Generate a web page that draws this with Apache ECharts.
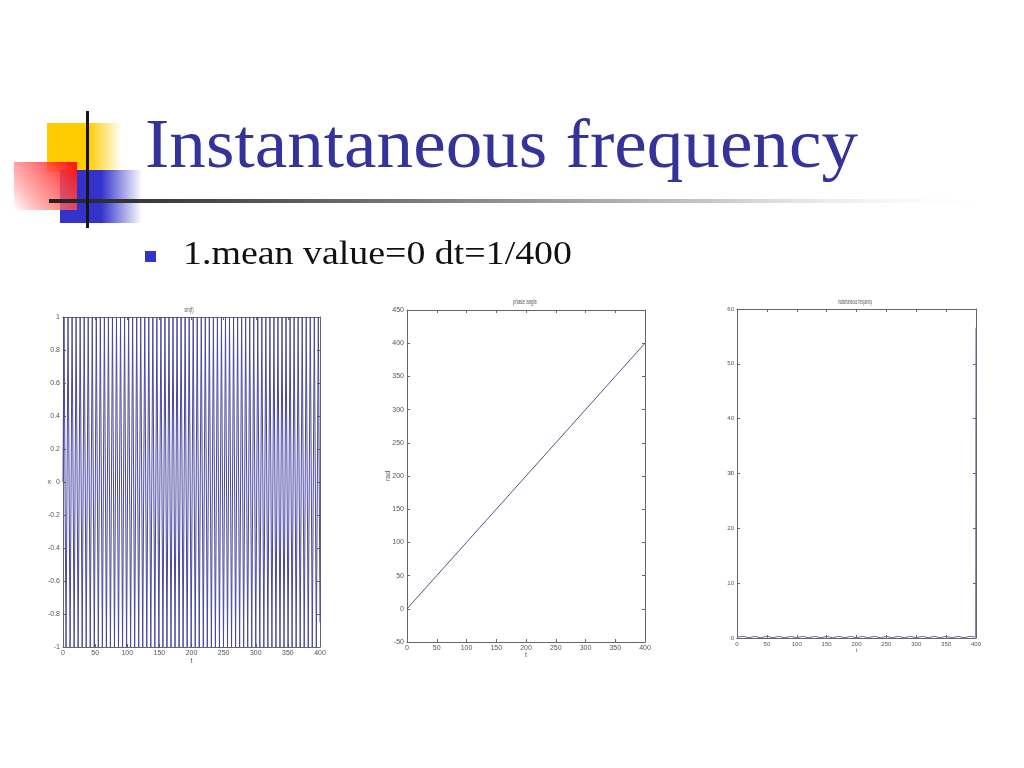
<!DOCTYPE html>
<html>
<head>
<meta charset="utf-8">
<script src="https://cdn.jsdelivr.net/npm/echarts@6/dist/echarts.min.js"></script>
<style>
html,body{margin:0;padding:0;background:#fff;}
#c{width:1024px;height:768px;}
</style>
</head>
<body>
<div id="c"></div>
<script>
// ---- Slide text ----
const slideTitle = 'Instantaneous frequency';
const bulletText = '1.mean value=0 dt=1/400';
const plotTitles = ['sin(t)', 'phase angle', 'instantaneous frequency'];
const yNames = ['x', 'rad', 'f'];
const xName = 't';

// ---- Plot 1: sin(t), extremes ----
const sinT = [0, 1.57, 4.71, 7.85, 11.00, 14.14, 17.28, 20.42, 23.56, 26.70, 29.85, 32.99, 36.13, 39.27, 42.41, 45.55,
  48.69, 51.84, 54.98, 58.12, 61.26, 64.40, 67.54, 70.69, 73.83, 76.97, 80.11, 83.25, 86.39, 89.54, 92.68, 95.82,
  98.96, 102.10, 105.24, 108.38, 111.53, 114.67, 117.81, 120.95, 124.09, 127.23, 130.38, 133.52, 136.66, 139.80,
  142.94, 146.08, 149.23, 152.37, 155.51, 158.65, 161.79, 164.93, 168.08, 171.22, 174.36, 177.50, 180.64, 183.78,
  186.92, 190.07, 193.21, 196.35, 199.49, 202.63, 205.77, 208.92, 212.06, 215.20, 218.34, 221.48, 224.62, 227.77,
  230.91, 234.05, 237.19, 240.33, 243.47, 246.62, 249.76, 252.90, 256.04, 259.18, 262.32, 265.46, 268.61, 271.75,
  274.89, 278.03, 281.17, 284.31, 287.46, 290.60, 293.74, 296.88, 300.02, 303.16, 306.31, 309.45, 312.59, 315.73,
  318.87, 322.01, 325.15, 328.30, 331.44, 334.58, 337.72, 340.86, 344.00, 347.15, 350.29, 353.43, 356.57, 359.71,
  362.85, 366.00, 369.14, 372.28, 375.42, 378.56, 381.70, 384.85, 387.99, 391.13, 394.27, 397.41, 400];
const sinX = [0,
  1,-1,1,-1,1,-1,1,-1,1,-1,1,-1,1,-1,
  1,-1,1,-1,1,-1,1,-1,1,-1,1,-1,1,-1,
  1,-1,1,-1,1,-1,1,-1,1,-1,1,-1,1,-1,
  1,-1,1,-1,1,-1,1,-1,1,-1,1,-1,1,-1,
  1,-1,1,-1,1,-1,1,-1,1,-1,1,-1,1,-1,
  1,-1,1,-1,1,-1,1,-1,1,-1,1,-1,1,-1,
  1,-1,1,-1,1,-1,1,-1,1,-1,1,-1,1,-1,
  1,-1,1,-1,1,-1,1,-1,1,-1,1,-1,1,-1,
  1,-1,1,-1,1,-1,1,-1,1,-1,1,-1,1,-1,
  1, -0.85];

// ---- Plot 2: phase angle ----
const phaseT = [0, 50, 100, 150, 200, 250, 300, 350, 400];
const phaseRad = [0, 50, 100, 150, 200, 250, 300, 350, 400];

// ---- Plot 3: instantaneous frequency ----
const freqT = [0,10,20,30,40,50,60,70,80,90,100,110,120,130,140,150,160,170,180,190,200,
  210,220,230,240,250,260,270,280,290,300,310,320,330,340,350,360,370,380,390,399.5,400];
const freqF = [0.16,0.3,0.05,0.3,0.05,0.3,0.05,0.3,0.05,0.3,0.05,0.3,0.05,0.3,0.05,0.3,0.05,0.3,0.05,0.3,0.05,
  0.3,0.05,0.3,0.05,0.3,0.05,0.3,0.05,0.3,0.05,0.3,0.05,0.3,0.05,0.3,0.05,0.3,0.05,0.3,0.16,56.6];

// ---- Axis ranges ----
const axes = [
  {x:[0,400,50], y:[-1,1,0.2]},
  {x:[0,400,50], y:[-50,450,50]},
  {x:[0,400,50], y:[0,60,10]}
];

const grids = [
  {left:63, top:317, width:257, height:330},
  {left:407, top:310, width:238, height:332},
  {left:737, top:309, width:239, height:329}
];

const measureCtx = document.createElement('canvas').getContext('2d');
function fitScale(text, font, targetW) {
  measureCtx.font = font;
  return targetW / measureCtx.measureText(text).width;
}

const chart = echarts.init(document.getElementById('c'), null, {renderer:'canvas'});
const lblFont = {fontFamily:'Liberation Sans Narrow, Liberation Sans, sans-serif', fontSize:7, color:'#555'};
const lineCol = '#666';
const xNameGap = [11, 10, 9];
const yNameGap = [12, 15, 5];
const labelSizes = [7, 7, 6];

const xAxes = [], yAxes = [];
axes.forEach((a, i) => {
  const base = {
    gridIndex:i, type:'value', splitLine:{show:false},
    axisLine:{show:true, onZero:false, lineStyle:{color:lineCol, width:1}},
    axisTick:{show:true, inside:true, length:3, lineStyle:{color:lineCol}}
  };
  xAxes.push(Object.assign({}, base, {
    position:'bottom', min:a.x[0], max:a.x[1], interval:a.x[2],
    axisLabel:Object.assign({}, lblFont, {fontSize:labelSizes[i], margin:3}),
    name:xName, nameLocation:'middle', nameGap:xNameGap[i], nameMoveOverlap:false,
    nameTextStyle:Object.assign({}, lblFont, {fontSize:labelSizes[i]})
  }));
  xAxes.push(Object.assign({}, base, {
    position:'top', min:a.x[0], max:a.x[1], interval:a.x[2], axisLabel:{show:false}
  }));
  yAxes.push(Object.assign({}, base, {
    position:'left', min:a.y[0], max:a.y[1], interval:a.y[2],
    axisLabel:Object.assign({}, lblFont, {fontSize:labelSizes[i], margin:3}),
    name:yNames[i], nameLocation:'middle', nameGap:yNameGap[i], nameRotate:(i===1?90:0), nameMoveOverlap:false,
    nameTextStyle:Object.assign({}, lblFont, {fontSize:labelSizes[i]})
  }));
  yAxes.push(Object.assign({}, base, {
    position:'right', min:a.y[0], max:a.y[1], interval:a.y[2], axisLabel:{show:false}
  }));
});

// plot titles (centre x, centre y, target width)
const ptPos = [[189, 310, 9], [525, 302, 24], [855, 302, 34]];
const ptFont = '7px "Liberation Sans Narrow", "Liberation Sans", sans-serif';
const plotTitleGraphics = plotTitles.map((t, i) => ({
  type:'text', x:ptPos[i][0], y:ptPos[i][1], z:6,
  scaleX:fitScale(t, ptFont, ptPos[i][2]), scaleY:1,
  style:{text:t, font:ptFont, fill:'#555', align:'center', verticalAlign:'middle'}
}));

const titleFont = '70px "Liberation Serif", serif';
const bulletFont = '34px "Liberation Serif", serif';

const option = {
  animation:false,
  backgroundColor:'#fff',
  grid:grids,
  xAxis:xAxes,
  yAxis:yAxes,
  series:[
    {type:'line', xAxisIndex:0, yAxisIndex:0, showSymbol:false, symbol:'none',
     data:sinT.map((t, k) => [t, sinX[k]]),
     lineStyle:{color:'#4848a0', width:1}},
    {type:'line', xAxisIndex:2, yAxisIndex:2, showSymbol:false, symbol:'none',
     data:phaseT.map((t, k) => [t, phaseRad[k]]),
     lineStyle:{color:'#55557f', width:1}},
    {type:'line', xAxisIndex:4, yAxisIndex:4, showSymbol:false, symbol:'none',
     data:freqT.map((t, k) => [t, freqF[k]]),
     lineStyle:{color:'#6a6a9a', width:1}}
  ],
  graphic:[
    // decorative blocks
    {type:'rect', shape:{x:47, y:123, width:75, height:49}, z:1,
     style:{fill:new echarts.graphic.LinearGradient(0,0,1,0,[
       {offset:0,color:'#FFCC00'},{offset:0.55,color:'#FFCC00'},{offset:1,color:'rgba(255,204,0,0)'}])}},
    {type:'rect', shape:{x:60, y:170, width:82, height:53}, z:2,
     style:{fill:new echarts.graphic.LinearGradient(0,0,1,0,[
       {offset:0,color:'#3333CC'},{offset:0.5,color:'#3333CC'},{offset:1,color:'rgba(51,51,204,0)'}])}},
    {type:'rect', shape:{x:14, y:162, width:63, height:48}, z:3,
     style:{fill:new echarts.graphic.LinearGradient(1,0,0,1,[
       {offset:0,color:'#FF0a0a'},{offset:0.55,color:'rgba(255,110,110,0.75)'},{offset:1,color:'rgba(255,255,255,0.95)'}])}},
    {type:'rect', shape:{x:49, y:199, width:951, height:4}, z:4,
     style:{fill:new echarts.graphic.LinearGradient(0,0,1,0,[
       {offset:0,color:'#222'},{offset:0.3,color:'#666'},{offset:0.7,color:'#c8c8c8'},{offset:1,color:'rgba(255,255,255,0)'}])}},
    {type:'rect', shape:{x:86, y:111, width:3, height:117}, z:5, style:{fill:'#151515'}},
    // title
    {type:'text', x:145, y:149, z:6, scaleX:fitScale(slideTitle, titleFont, 713), scaleY:1,
     style:{text:slideTitle, font:titleFont, fill:'#333399', verticalAlign:'middle', align:'left'}},
    // bullet
    {type:'rect', shape:{x:145, y:251, width:11, height:11}, z:6, style:{fill:'#3333CC'}},
    {type:'text', x:183, y:255, z:6, scaleX:fitScale(bulletText, bulletFont, 389), scaleY:1,
     style:{text:bulletText, font:bulletFont, fill:'#111', verticalAlign:'middle', align:'left'}}
  ].concat(plotTitleGraphics)
};
chart.setOption(option);
</script>
</body>
</html>
